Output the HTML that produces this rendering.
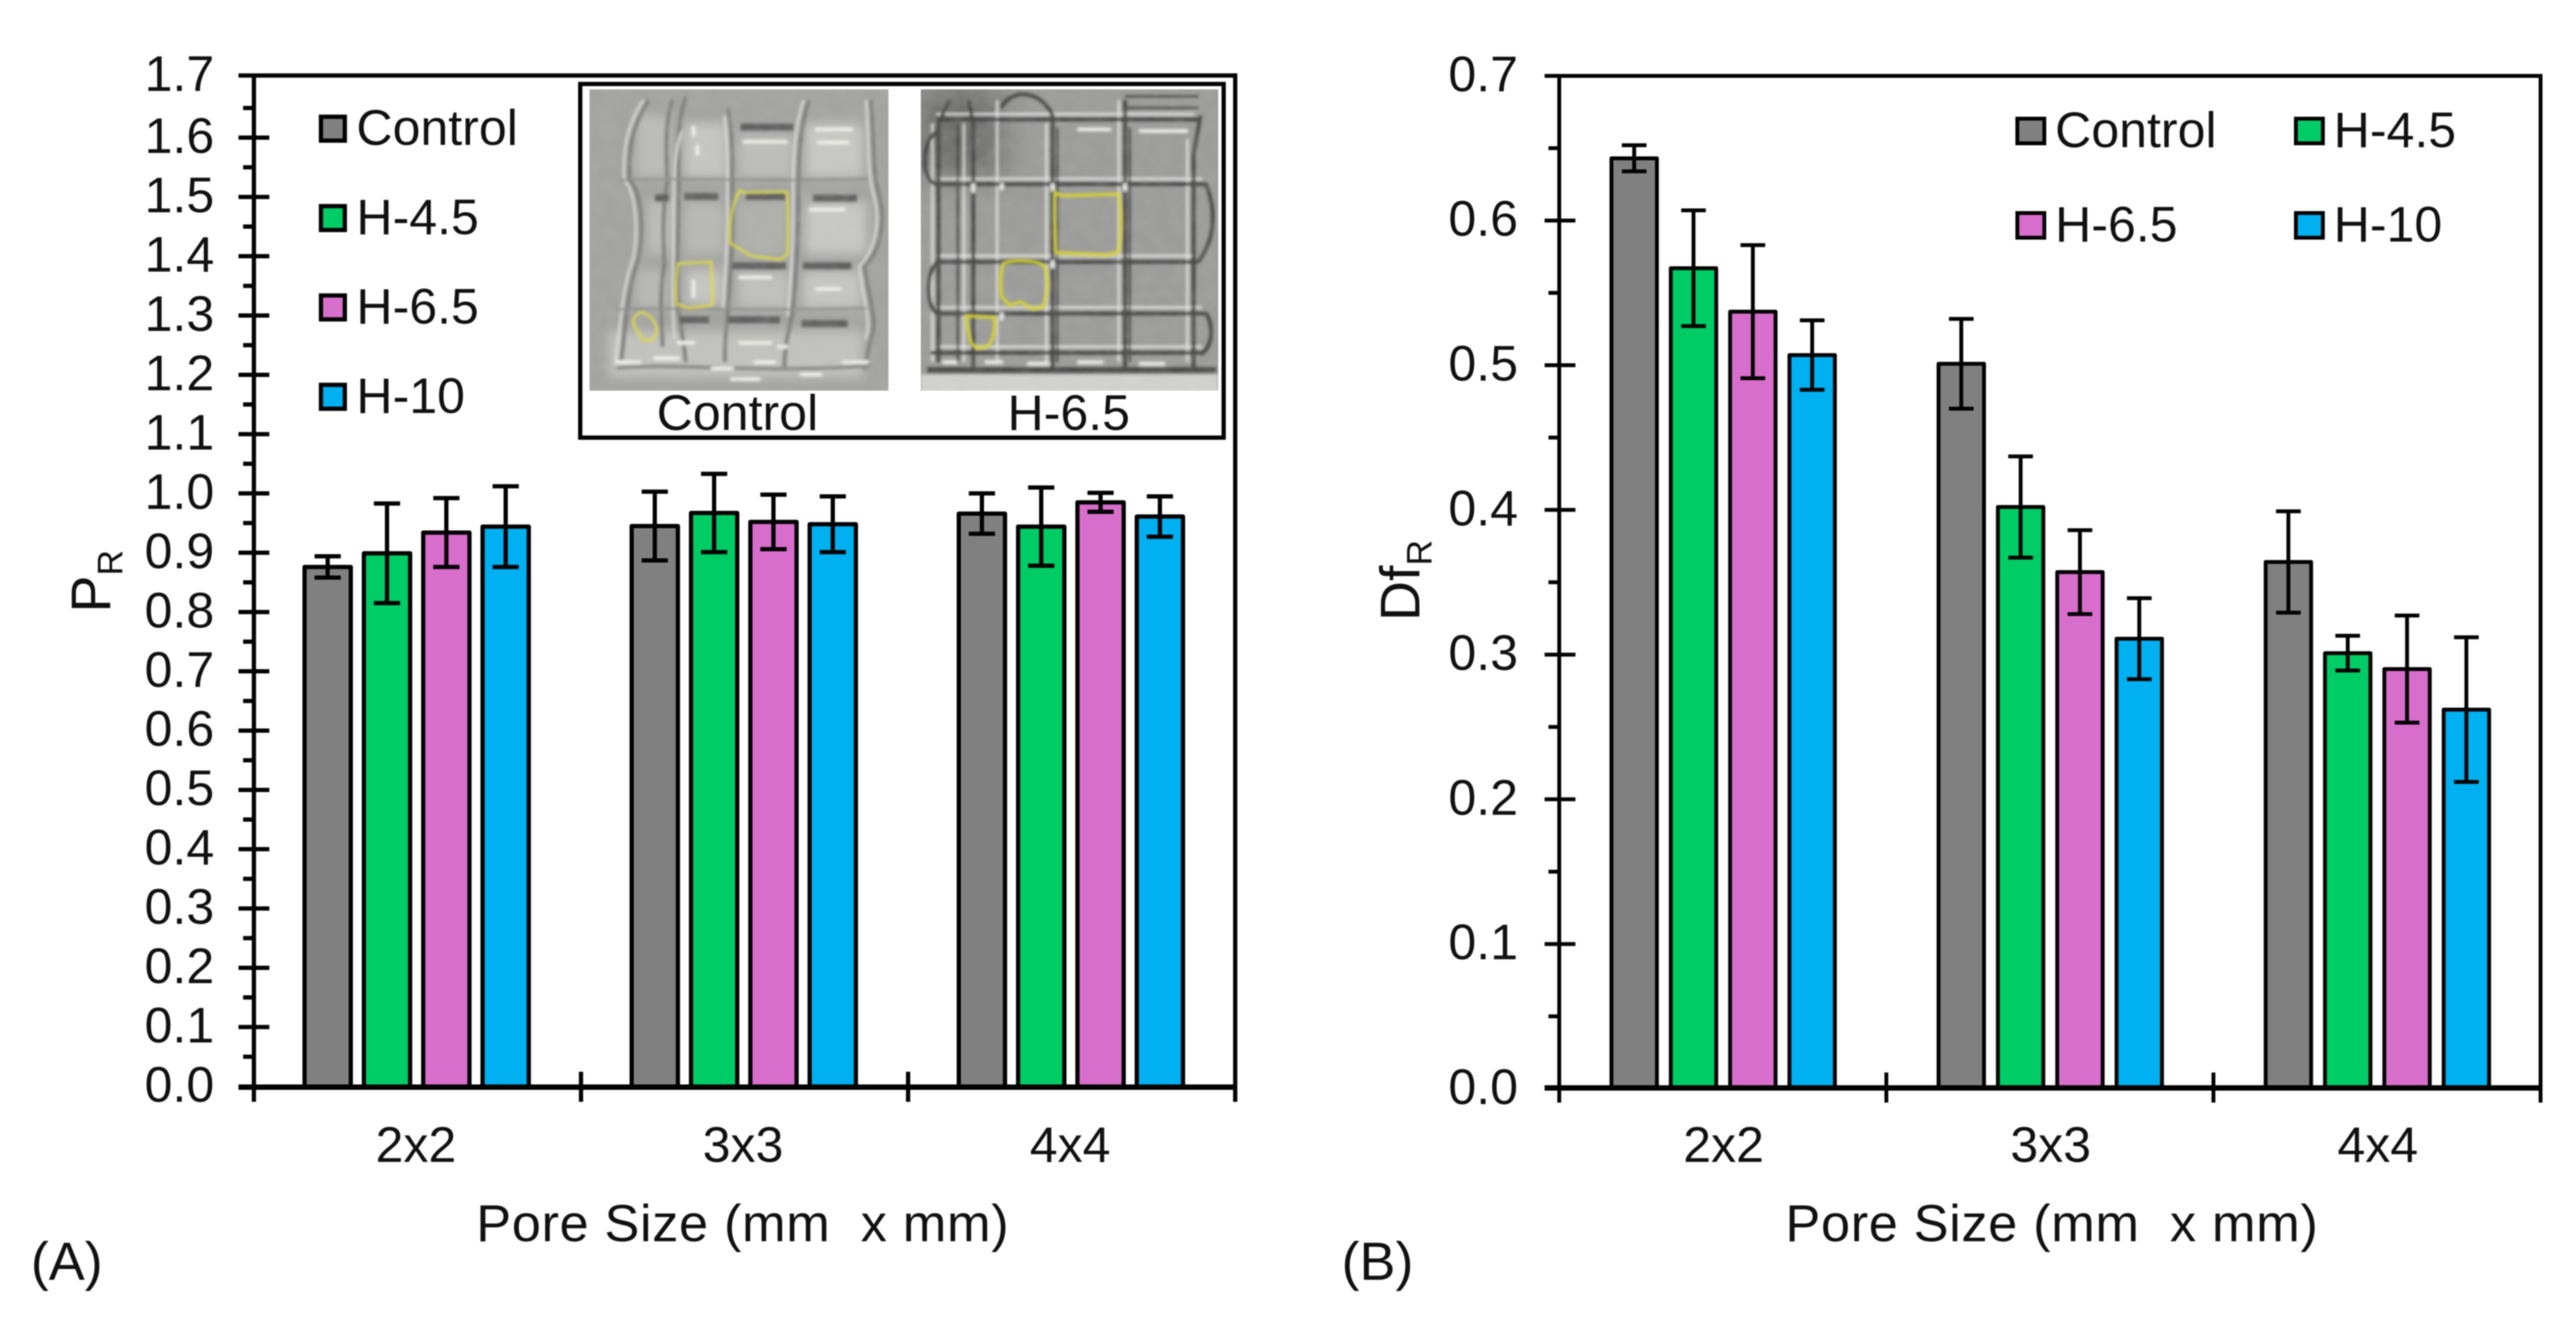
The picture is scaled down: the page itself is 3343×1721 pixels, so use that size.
<!DOCTYPE html>
<html lang="en">
<head>
<meta charset="utf-8">
<title>Pore size charts: PR and DfR</title>
<style>
html,body{margin:0;padding:0;background:#fff;width:3343px;height:1721px;overflow:hidden}
svg{display:block;filter:blur(0.7px)}
text{font-family:"Liberation Sans",Arial,sans-serif;fill:#111}
</style>
</head>
<body>
<svg id="figure" xmlns="http://www.w3.org/2000/svg" width="3343" height="1721" viewBox="0 0 3343 1721">
<defs>
<filter id="soft" x="-5%" y="-5%" width="110%" height="110%"><feGaussianBlur stdDeviation="1.8"/></filter>
<filter id="softer" x="-20%" y="-20%" width="140%" height="140%"><feGaussianBlur stdDeviation="7"/></filter>
<filter id="softest" x="-40%" y="-40%" width="180%" height="180%"><feGaussianBlur stdDeviation="22"/></filter>
<filter id="mottle" x="0" y="0" width="100%" height="100%">
<feTurbulence type="fractalNoise" baseFrequency="0.05" numOctaves="3" seed="7"/>
<feColorMatrix type="matrix" values="0 0 0 0 0.5  0 0 0 0 0.5  0 0 0 0 0.5  1.6 0 0 0 -0.55"/>
</filter>
<clipPath id="clip-control"><rect x="765" y="116" width="388" height="391"/></clipPath>
<clipPath id="clip-h65"><rect x="1195" y="116" width="386" height="391"/></clipPath>
</defs>
<rect width="3343" height="1721" fill="#fff"/>
<g id="panel-a"></g>
<g id="panel-b"></g>

<g>
<rect x="753" y="109" width="835" height="459" fill="#fff" stroke="#000" stroke-width="5.5"/>

<g clip-path="url(#clip-control)">
<rect x="765" y="116" width="388" height="391" fill="#a3a3a0"/>
<g filter="url(#softer)">
<rect x="825" y="150" width="45" height="80" fill="#bcbcb8"/>
<rect x="888" y="160" width="55" height="70" fill="#c6c6c2"/>
<rect x="958" y="175" width="72" height="55" fill="#bdbdb9"/>
<rect x="1045" y="160" width="75" height="70" fill="#c8c8c4"/>
<rect x="840" y="260" width="32" height="70" fill="#bcbcb8"/>
<rect x="888" y="262" width="52" height="68" fill="#b8b8b4"/>
<rect x="958" y="262" width="62" height="68" fill="#b0b0ac"/>
<rect x="1045" y="262" width="80" height="68" fill="#c8c8c4"/>
<rect x="825" y="350" width="40" height="50" fill="#b8b8b4"/>
<rect x="890" y="350" width="48" height="45" fill="#c6c6c2"/>
<rect x="958" y="352" width="66" height="48" fill="#c0c0bc"/>
<rect x="1042" y="352" width="76" height="48" fill="#c6c6c2"/>
<rect x="790" y="430" width="330" height="60" fill="#c2c2be"/>
</g>
<g filter="url(#soft)" fill="none">
<g stroke="#808080" stroke-width="5">
<path d="M842 130 C822 160 815 190 817 234 C834 250 835 300 829 335 C815 370 812 420 806 470"/>
<path d="M872 130 C862 165 865 200 866 235 C858 280 862 320 862 345 C856 380 858 410 860 450"/>
<path d="M890 126 C878 160 880 200 881 250 C880 300 878 340 880 400 C885 430 888 450 890 470"/>
<path d="M945 140 C952 180 950 220 950 260 C952 310 948 350 945 400 C942 430 940 450 941 470"/>
<path d="M1050 130 C1036 170 1036 220 1036 260 C1036 320 1032 370 1028 410 C1020 440 1018 460 1018 480"/>
<path d="M1130 130 C1135 180 1132 220 1140 250 C1152 290 1140 330 1122 345 C1128 390 1140 420 1130 440 C1125 460 1124 470 1122 480"/>
<path d="M800 478 C870 470 1000 486 1130 474" stroke="#8c8c8a"/>
</g>
<g stroke="#dedeDA" stroke-width="3">
<path d="M835 130 C815 160 808 190 810 234 C826 250 828 300 822 335 C808 370 805 420 799 470"/>
<path d="M885 170 C873 200 874 250 874 320 C872 370 873 400 875 440"/>
<path d="M940 150 C945 190 944 230 944 260 C945 310 941 350 938 400"/>
<path d="M1043 130 C1029 170 1029 220 1029 260 C1029 320 1026 370 1022 410"/>
<path d="M1124 130 C1128 180 1125 220 1133 250 C1145 290 1133 330 1115 345 C1120 390 1132 420 1123 440"/>
</g>
<g stroke="#8e8e8b" stroke-width="3">
<path d="M805 234 C860 230 1000 236 1128 232"/>
<path d="M800 402 C860 398 1000 404 1125 400"/>
</g>
<g stroke="#616160" stroke-width="9">
<path d="M961 165 H1030"/>
<path d="M850 257 H868 M888 255 H932 M968 255 H1020 M1055 257 H1112"/>
<path d="M950 345 H1020 M1042 345 H1105"/>
<path d="M882 415 H920 M945 415 H1012 M1040 420 H1100"/>
</g>
<g stroke="#efefe9" stroke-width="5" stroke-linecap="round">
<path d="M966 184 H1020 M1060 168 H1105 M1062 185 H1100 M900 165 V175 M905 190 V200 M1052 272 H1095 M900 365 V385 M960 360 H1000 M960 445 H1000 M1060 375 H1090"/>
<path d="M800 470 H830 M850 465 H880 M925 478 H950 M980 470 H1005 M1095 470 H1125 M950 492 H985 M1040 486 H1065 M880 445 H900 M1010 450 H1020"/>
</g>
</g>
<rect x="765" y="116" width="388" height="391" filter="url(#mottle)" opacity="0.22"/>
<g filter="url(#soft)" fill="none" stroke="#e2dc45" stroke-width="3">
<path d="M960 247 L966 250 L1021 249 C1024 280 1023 310 1022 330 L1013 337 L975 332 L948 316 C945 290 950 265 960 247Z"/>
<path d="M880 342 L923 340 L925 395 L923 396 L895 400 L878 395 C877 375 877 360 880 342Z"/>
<path d="M835 406 C845 410 854 420 852 432 C848 445 838 442 834 441 C828 430 820 420 822 415 C825 408 830 405 835 406Z"/>
</g>
</g>

<g clip-path="url(#clip-h65)">
<rect x="1195" y="116" width="386" height="391" fill="#9c9c9a"/>
<rect x="1190" y="110" width="110" height="120" fill="#6e6e6c" filter="url(#softest)"/>
<rect x="1195" y="486" width="386" height="30" fill="#d2d2cf" filter="url(#soft)"/>
<g filter="url(#soft)" fill="none">
<g stroke="#e4e4e0" stroke-width="3">
<path d="M1210 160 V470 M1251 160 V470 M1294 130 V470 M1358 160 V470 M1452 130 V470 M1541 180 V470"/>
<path d="M1215 148 H1550 M1215 232 H1560 M1215 332 H1550 M1215 399 H1560 M1215 450 H1560"/>
</g>
<g stroke="#4a4a4a" stroke-width="5">
<path d="M1232 130 L1218 160 V470"/>
<path d="M1243 160 V470" stroke-width="3"/>
<path d="M1257 130 L1263 160 V480"/>
<path d="M1300 140 C1310 115 1350 115 1366 150 V480"/>
<path d="M1372 165 V470" stroke-width="3"/>
<path d="M1460 130 V480"/>
<path d="M1466 165 V470" stroke-width="3"/>
<path d="M1558 150 L1549 200 V480"/>
<path d="M1216 155 H1555"/>
<path d="M1215 239 H1565 C1578 270 1578 310 1555 340"/>
<path d="M1215 340 H1555"/>
<path d="M1215 407 H1565 C1575 420 1575 450 1558 460"/>
<path d="M1208 458 H1560"/>
<path d="M1203 480 H1578" stroke-width="7"/>
<path d="M1215 170 C1195 190 1195 230 1215 240 M1215 340 C1200 360 1205 400 1215 407"/>
<path d="M1460 125 H1555 M1460 140 H1555" stroke-width="3"/>
</g>
<g stroke="#ececE8" stroke-width="5" stroke-linecap="round">
<path d="M1300 240 V245 M1263 240 V248 M1366 240 V246 M1225 470 H1240 M1280 470 H1300 M1335 472 H1360 M1400 470 H1430 M1480 472 H1510 M1300 408 V414 M1366 340 V346 M1460 240 V246 M1480 170 H1540 M1400 168 H1440"/>
</g>
</g>
<rect x="1195" y="116" width="386" height="391" filter="url(#mottle)" opacity="0.2"/>
<g filter="url(#soft)" fill="none" stroke="#d9d431" stroke-width="4">
<path d="M1369 250 L1378 254 L1452 252 C1456 280 1454 310 1452 327 L1435 331 L1395 329 L1370 328 C1369 300 1368 275 1369 250Z"/>
<path d="M1302 342 C1312 337 1345 337 1355 345 C1362 360 1360 380 1354 398 L1340 401 L1325 392 L1310 396 L1300 385 C1298 370 1298 355 1302 342Z"/>
<path d="M1254 410 L1290 412 C1293 430 1288 445 1280 450 L1268 452 L1260 445 C1256 430 1255 420 1254 410Z"/>
</g>
</g>
<text x="957" y="558" font-size="65" text-anchor="middle">Control</text>
<text x="1387" y="558" font-size="65" text-anchor="middle">H-6.5</text>
</g>

<text x="40" y="1661" font-size="70">(A)</text>
<text x="1741" y="1661" font-size="70">(B)</text>
</svg>

<script>
// Shared categories and series
const categories = ["2x2", "3x3", "4x4"];
const seriesNames = ["Control", "H-4.5", "H-6.5", "H-10"];
const seriesColors = ["#808080", "#00CC66", "#D86ECC", "#00B0F0"];

// Panel A: PR
const controlP = [0.876, 0.945, 0.966];
const h45P = [0.899, 0.967, 0.944];
const h65P = [0.934, 0.952, 0.985];
const h10P = [0.944, 0.948, 0.961];
const controlPErr = [0.018, 0.058, 0.034];
const h45PErr = [0.084, 0.066, 0.066];
const h65PErr = [0.058, 0.046, 0.016];
const h10PErr = [0.068, 0.047, 0.034];
const pTicks = ["0.0", "0.1", "0.2", "0.3", "0.4", "0.5", "0.6", "0.7", "0.8", "0.9", "1.0", "1.1", "1.2", "1.3", "1.4", "1.5", "1.6", "1.7"];

// Panel B: DfR
const controlDf = [0.643, 0.501, 0.364];
const h45Df = [0.567, 0.402, 0.301];
const h65Df = [0.537, 0.357, 0.290];
const h10Df = [0.507, 0.311, 0.262];
const controlDfErr = [0.009, 0.031, 0.035];
const h45DfErr = [0.040, 0.035, 0.012];
const h65DfErr = [0.046, 0.029, 0.037];
const h10DfErr = [0.024, 0.028, 0.050];
const dfTicks = ["0.0", "0.1", "0.2", "0.3", "0.4", "0.5", "0.6", "0.7"];

const SVG_NS = "http://www.w3.org/2000/svg";

function make(tag, attrs, parent) {
  const el = document.createElementNS(SVG_NS, tag);
  for (const key in attrs) el.setAttribute(key, attrs[key]);
  parent.appendChild(el);
  return el;
}

function drawPanel(root, cfg) {
  const yScale = v => cfg.zeroY - cfg.unit * v;
  const catWidth = (cfg.right - cfg.left) / categories.length;
  const catCenter = i => cfg.left + catWidth * (i + 0.5);
  const barCenter = (c, s) => catCenter(c) + cfg.shift + (s - (cfg.values.length - 1) / 2) * cfg.step;
  const axisStroke = { stroke: "#000", "stroke-width": cfg.line, "stroke-linecap": "butt" };

  // Bars
  cfg.values.forEach((series, s) => {
    series.forEach((value, c) => {
      const bar = make("rect", {
        x: barCenter(c, s) - cfg.barWidth / 2,
        y: yScale(value),
        width: cfg.barWidth,
        height: cfg.axisY - yScale(value),
        fill: seriesColors[s],
        stroke: "#000",
        "stroke-width": cfg.line,
        "stroke-linejoin": "round"
      }, root);
      
      
    });
  });

  // Error bars
  cfg.errors.forEach((series, s) => {
    series.forEach((err, c) => {
      const cx = barCenter(c, s);
      const hi = yScale(cfg.values[s][c] + err);
      const lo = yScale(cfg.values[s][c] - err);
      const whisker = make("path", {
        d: "M" + (cx - cfg.cap) + " " + hi + "H" + (cx + cfg.cap) +
           "M" + cx + " " + hi + "V" + lo +
           "M" + (cx - cfg.cap) + " " + lo + "H" + (cx + cfg.cap),
        fill: "none",
        stroke: "#000",
        "stroke-width": cfg.line
      }, root);
      
      
    });
  });

  // Frame lines
  const leftAxis = make("line", Object.assign({ x1: cfg.left, x2: cfg.left, y1: cfg.top, y2: cfg.axisY + 19 }, axisStroke), root);
  
  
  const rightAxis = make("line", Object.assign({ x1: cfg.right, x2: cfg.right, y1: cfg.top - cfg.line / 2, y2: cfg.axisY + 19 }, axisStroke), root);
  
  
  const topAxis = make("line", Object.assign({ x1: cfg.left - cfg.majorOut, x2: cfg.right, y1: cfg.top, y2: cfg.top }, axisStroke), root);
  
  
  const bottomAxis = make("line", { x1: cfg.left - cfg.majorOut, x2: cfg.right, y1: cfg.axisY, y2: cfg.axisY, stroke: "#000", "stroke-width": cfg.bottomLine }, root);
  
  

  // Y ticks and labels
  const maxIndex = cfg.ticks.length - 1;
  cfg.ticks.forEach((label, i) => {
    const v = Number(label);
    if (i > 0 && i < maxIndex) {
      const major = make("line", Object.assign({ x1: cfg.left - cfg.majorOut, x2: cfg.left + cfg.majorIn, y1: yScale(v), y2: yScale(v) }, axisStroke), root);
      
      
    }
    if (i < maxIndex) {
      const next = Number(cfg.ticks[i + 1]);
      const mid = yScale((v + next) / 2);
      const minor = make("line", Object.assign({ x1: cfg.left - cfg.minorOut, x2: cfg.left, y1: mid, y2: mid }, axisStroke), root);
      
      
    }
    const labelY = (i === maxIndex ? cfg.top : yScale(v)) + 20;
    const tickLabel = make("text", { x: cfg.labelRight, y: labelY, "font-size": cfg.font, "text-anchor": "end" }, root);
    tickLabel.textContent = label;
    
    
  });

  // Category dividers and labels
  categories.forEach((cat, c) => {
    if (c > 0) {
      const divX = cfg.left + catWidth * c;
      const divider = make("line", Object.assign({ x1: divX, x2: divX, y1: cfg.axisY - 20, y2: cfg.axisY + 19 }, axisStroke), root);
      
      
    }
    const catLabel = make("text", { x: catCenter(c) + cfg.labelShift, y: 1508, "font-size": cfg.font, "text-anchor": "middle" }, root);
    catLabel.textContent = cat;
    
    
  });

  // X title
  const xTitle = make("text", { x: cfg.titleX, y: 1611, "font-size": 68, textLength: 691, lengthAdjust: "spacing" }, root);
  xTitle.setAttribute("xml:space", "preserve");
  xTitle.style.whiteSpace = "pre";
  xTitle.textContent = "Pore Size (mm  x mm)";
  
  

  // Y title
  const yTitle = make("text", { transform: "translate(" + cfg.yTitleX + "," + cfg.yTitleY + ") rotate(-90)", "font-size": 72 }, root);
  yTitle.textContent = cfg.yTitle;
  
  
  const ySub = make("tspan", { dy: 16, "font-size": 46 }, yTitle);
  ySub.textContent = "R";
  
  

  // Legend
  seriesNames.forEach((name, s) => {
    const col = cfg.legendCols === 2 ? s % 2 : 0;
    const row = cfg.legendCols === 2 ? Math.floor(s / 2) : s;
    const cy = cfg.legendY + row * cfg.legendRow;
    const sx = cfg.legendX + col * cfg.legendCol;
    const swatch = make("rect", {
      x: sx,
      y: cy - cfg.swatchH / 2,
      width: cfg.swatchW,
      height: cfg.swatchH,
      fill: seriesColors[s],
      stroke: "#000",
      "stroke-width": cfg.line
    }, root);
    
    
    const legendText = make("text", { x: sx + cfg.legendTextGap, y: cy + 21, "font-size": cfg.font }, root);
    legendText.textContent = name;
    
    
  });
}

drawPanel(document.getElementById("panel-a"), {
  values: [controlP, h45P, h65P, h10P],
  errors: [controlPErr, h45PErr, h65PErr, h10PErr],
  ticks: pTicks,
  left: 329.5, right: 1603, top: 98, zeroY: 1410, axisY: 1411, unit: 769.6,
  step: 77, shift: -1, barWidth: 60, cap: 17, line: 5.5, bottomLine: 7,
  majorOut: 20, majorIn: 20, minorOut: 14, font: 65, labelRight: 278, labelShift: -2,
  titleX: 618, yTitle: "P", yTitleX: 143, yTitleY: 795,
  legendCols: 1, legendX: 416.5, legendY: 167, legendRow: 116, legendCol: 0,
  swatchW: 31, swatchH: 31, legendTextGap: 46
});

drawPanel(document.getElementById("panel-b"), {
  values: [controlDf, h45Df, h65Df, h10Df],
  errors: [controlDfErr, h45DfErr, h65DfErr, h10DfErr],
  ticks: dfTicks,
  left: 2023.5, right: 3297, top: 98.5, zeroY: 1413, axisY: 1412, unit: 1878,
  step: 77, shift: 0.5, barWidth: 59, cap: 16, line: 5, bottomLine: 7,
  majorOut: 19, majorIn: 21, minorOut: 14, font: 65, labelRight: 1970, labelShift: 1,
  titleX: 2317, yTitle: "Df", yTitleX: 1842, yTitleY: 806,
  legendCols: 2, legendX: 2618, legendY: 170, legendRow: 122.5, legendCol: 361.5,
  swatchW: 35, swatchH: 32, legendTextGap: 49
});
</script>
</body>
</html>
